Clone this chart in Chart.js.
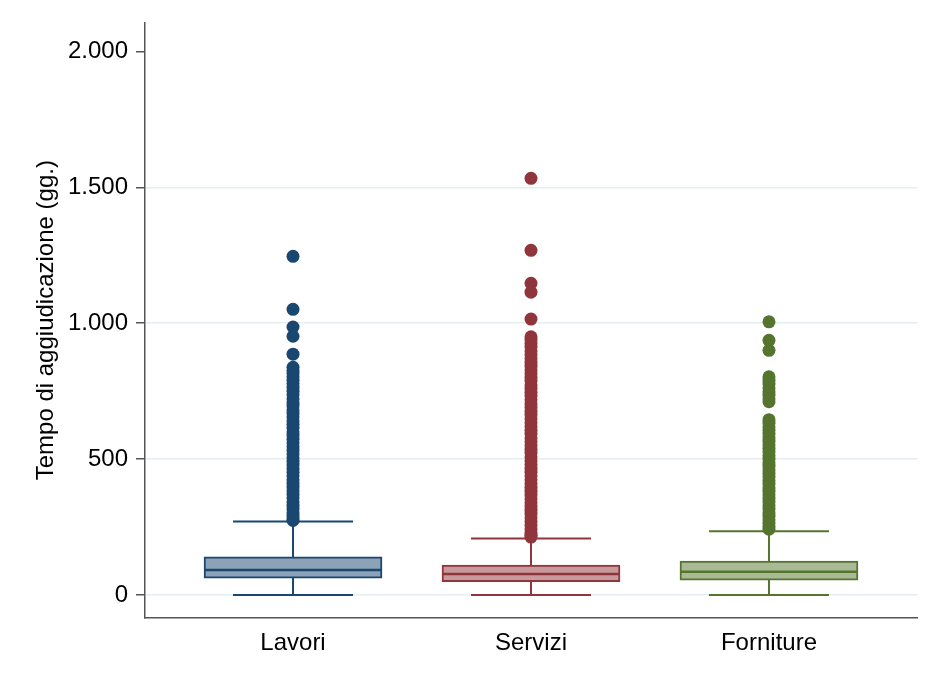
<!DOCTYPE html>
<html><head><meta charset="utf-8">
<script src="https://cdn.jsdelivr.net/npm/chart.js@4.4.1/dist/chart.umd.min.js"></script>
<style>html,body{margin:0;padding:0;background:#fff;} #wrap{position:relative;width:928px;height:676px;}</style>
</head><body><div id="wrap"><canvas id="c" width="928" height="676"></canvas></div>
<script>
const categories = ['Lavori', 'Servizi', 'Forniture'];
const q1 = [62, 49, 55];
const medians = [92, 77, 86];
const q3 = [140, 110, 125];
const whiskerLow = [0, 0, 0];
const whiskerHigh = [270, 208, 235];
const outliersLavori = [1246, 1051, 986, 952, 886, 838, 826, 815, 803, 790, 778, 764, 750, 737, 722, 708, 695, 681, 668, 655, 641, 628, 614, 600, 587, 573, 560, 546, 532, 519, 505, 492, 478, 465, 451, 438, 424, 411, 397, 384, 370, 357, 343, 330, 316, 303, 290, 280, 274];
const outliersServizi = [1533, 1268, 1147, 1114, 1015, 950, 938, 925, 912, 898, 884, 870, 856, 842, 828, 815, 801, 787, 773, 760, 746, 732, 718, 704, 690, 676, 662, 648, 634, 620, 606, 592, 578, 564, 550, 536, 522, 508, 494, 480, 466, 452, 438, 424, 410, 396, 382, 368, 354, 340, 326, 312, 298, 284, 270, 256, 243, 230, 220, 213];
const outliersForniture = [1005, 937, 900, 803, 790, 776, 762, 748, 735, 722, 711, 645, 632, 619, 606, 592, 579, 566, 553, 540, 526, 513, 500, 487, 474, 461, 448, 434, 421, 408, 395, 382, 369, 356, 342, 329, 316, 303, 290, 277, 264, 252, 242];
const yTickValues = [0, 500, 1000, 1500, 2000];
const yTickLabels = ['0', '500', '1.000', '1.500', '2.000'];
const yTitle = 'Tempo di aggiudicazione (gg.)';

const lineColors = ['#1a476f', '#90353b', '#55752f'];
const fillColors = ['#8ca3b7', '#c89a9d', '#aaba97'];
const outlierSets = [outliersLavori, outliersServizi, outliersForniture];

const datasets = [];
categories.forEach((cat, i) => {
  const x = i + 1;
  datasets.push({
    type: 'line', order: 6,
    data: [{x: x, y: whiskerLow[i]}, {x: x, y: whiskerHigh[i]}],
    borderColor: lineColors[i], borderWidth: 2, pointRadius: 0, fill: false
  });
  datasets.push({
    type: 'bar', order: 5, grouped: false,
    data: [{x: x, y: [q1[i], q3[i]]}],
    backgroundColor: fillColors[i], borderColor: lineColors[i], borderWidth: 2,
    borderSkipped: false, barThickness: 178
  });
  datasets.push({
    type: 'scatter', order: 4,
    data: [{x: x, y: medians[i]}],
    pointStyle: 'line', pointRadius: 88, borderColor: lineColors[i], borderWidth: 2.5
  });
  datasets.push({
    type: 'scatter', order: 4,
    data: [{x: x, y: whiskerLow[i]}, {x: x, y: whiskerHigh[i]}],
    pointStyle: 'line', pointRadius: 60, borderColor: lineColors[i], borderWidth: 2
  });
  datasets.push({
    type: 'scatter', order: 1,
    data: outlierSets[i].map(v => ({x: x, y: v})),
    pointStyle: 'circle', pointRadius: 6.5, backgroundColor: lineColors[i], borderColor: lineColors[i], borderWidth: 0
  });
});

const FONT = "'Liberation Sans', Arial, sans-serif";
new Chart(document.getElementById('c'), {
  type: 'scatter',
  data: { datasets: datasets },
  options: {
    responsive: false, animation: false, devicePixelRatio: 1, events: [],
    layout: { autoPadding: false, padding: { top: 22, right: 11, left: 0, bottom: 0 } },
    plugins: { legend: { display: false }, tooltip: { enabled: false } },
    scales: {
      x: {
        type: 'linear', min: 0.378, max: 3.622, offset: false,
        afterBuildTicks: s => { s.ticks = categories.map((c, i) => ({ value: i + 1 })); },
        afterFit: s => { s.height = 58; },
        ticks: { callback: (v, i) => categories[i], font: { family: FONT, size: 24 }, color: '#000', padding: 11, maxRotation: 0, autoSkip: false },
        grid: { drawOnChartArea: false, drawTicks: false },
        border: { display: true, color: '#555', width: 1.5 }
      },
      y: {
        type: 'linear', min: -84.6, max: 2106.6,
        afterBuildTicks: s => { s.ticks = yTickValues.map(v => ({ value: v })); },
        afterFit: s => { s.width = 145; },
        ticks: { callback: (v, i) => yTickLabels[i], font: { family: FONT, size: 24 }, color: '#000', padding: 8 },
        grid: {
          color: ctx => (ctx.tick && ctx.tick.value === 2000) ? 'rgba(0,0,0,0)' : '#e4eef0',
          tickColor: '#555', tickLength: 9, lineWidth: 1.5
        },
        border: { display: true, color: '#555', width: 1.5 },
        title: { display: true, text: yTitle, font: { family: FONT, size: 24 }, color: '#000', padding: { top: 32, bottom: 0 } }
      }
    }
  }
});
</script>
</body></html>
